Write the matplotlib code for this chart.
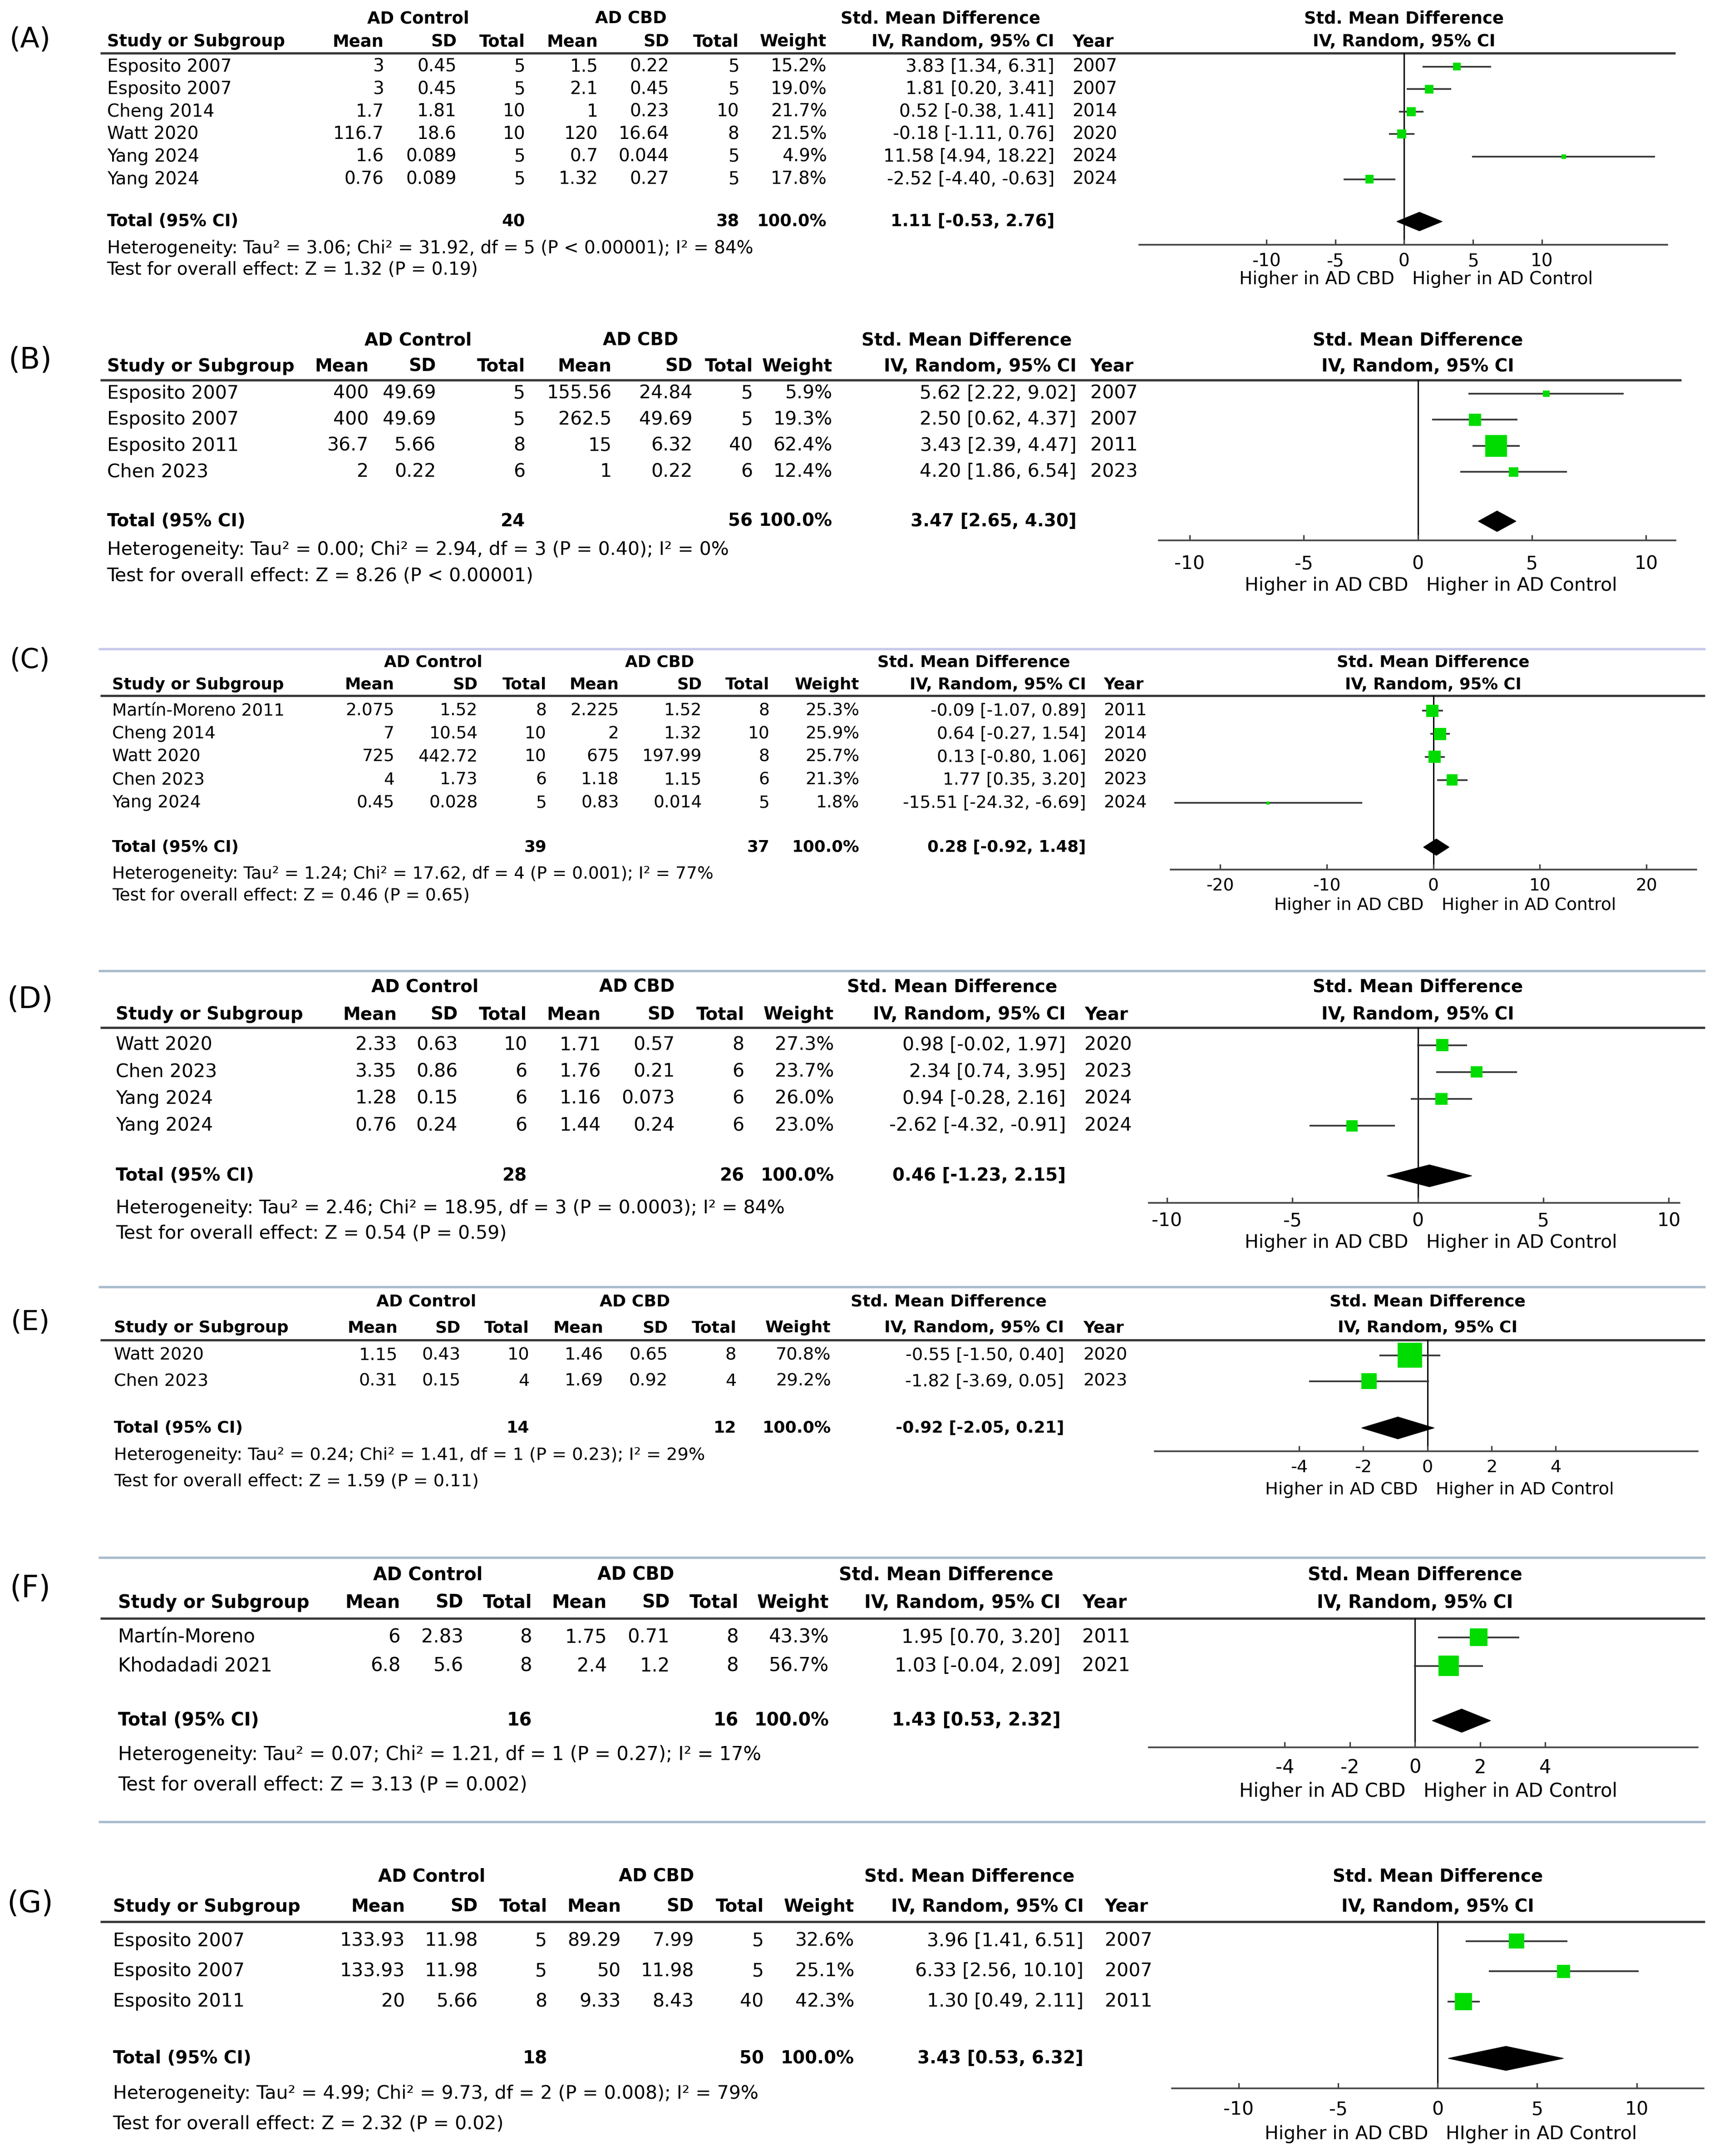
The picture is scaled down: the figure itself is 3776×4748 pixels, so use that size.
import numpy as np
import matplotlib
matplotlib.use('Agg')
import matplotlib.pyplot as plt

plt.rcParams['font.family'] = ['DejaVu Sans']
plt.rcParams['axes.unicode_minus'] = False

# ---------------- data ----------------
# (A)
A_STUDY = ['Esposito 2007', 'Esposito 2007', 'Cheng 2014', 'Watt 2020', 'Yang 2024', 'Yang 2024']
A_CTRL_MEAN = [3, 3, 1.7, 116.7, 1.6, 0.76]
A_CTRL_SD = [0.45, 0.45, 1.81, 18.6, 0.089, 0.089]
A_CTRL_N = [5, 5, 10, 10, 5, 5]
A_CBD_MEAN = [1.5, 2.1, 1, 120, 0.7, 1.32]
A_CBD_SD = [0.22, 0.45, 0.23, 16.64, 0.044, 0.27]
A_CBD_N = [5, 5, 10, 8, 5, 5]
A_WEIGHT = [15.2, 19.0, 21.7, 21.5, 4.9, 17.8]
A_SMD = [3.83, 1.81, 0.52, -0.18, 11.58, -2.52]
A_LO = [1.34, 0.20, -0.38, -1.11, 4.94, -4.40]
A_HI = [6.31, 3.41, 1.41, 0.76, 18.22, -0.63]
A_YEAR = [2007, 2007, 2014, 2020, 2024, 2024]
A_TOTAL_N = [40, 38]
A_POOLED = [1.11, -0.53, 2.76]
A_HET = 'Heterogeneity: Tau² = 3.06; Chi² = 31.92, df = 5 (P < 0.00001); I² = 84%'
A_TEST = 'Test for overall effect: Z = 1.32 (P = 0.19)'
A_TICKS = [-10, -5, 0, 5, 10]

# (B)
B_STUDY = ['Esposito 2007', 'Esposito 2007', 'Esposito 2011', 'Chen 2023']
B_CTRL_MEAN = [400, 400, 36.7, 2]
B_CTRL_SD = [49.69, 49.69, 5.66, 0.22]
B_CTRL_N = [5, 5, 8, 6]
B_CBD_MEAN = [155.56, 262.5, 15, 1]
B_CBD_SD = [24.84, 49.69, 6.32, 0.22]
B_CBD_N = [5, 5, 40, 6]
B_WEIGHT = [5.9, 19.3, 62.4, 12.4]
B_SMD = [5.62, 2.50, 3.43, 4.20]
B_LO = [2.22, 0.62, 2.39, 1.86]
B_HI = [9.02, 4.37, 4.47, 6.54]
B_YEAR = [2007, 2007, 2011, 2023]
B_TOTAL_N = [24, 56]
B_POOLED = [3.47, 2.65, 4.30]
B_HET = 'Heterogeneity: Tau² = 0.00; Chi² = 2.94, df = 3 (P = 0.40); I² = 0%'
B_TEST = 'Test for overall effect: Z = 8.26 (P < 0.00001)'
B_TICKS = [-10, -5, 0, 5, 10]

# (C)
C_STUDY = ['Martín-Moreno 2011', 'Cheng 2014', 'Watt 2020', 'Chen 2023', 'Yang 2024']
C_CTRL_MEAN = [2.075, 7, 725, 4, 0.45]
C_CTRL_SD = [1.52, 10.54, 442.72, 1.73, 0.028]
C_CTRL_N = [8, 10, 10, 6, 5]
C_CBD_MEAN = [2.225, 2, 675, 1.18, 0.83]
C_CBD_SD = [1.52, 1.32, 197.99, 1.15, 0.014]
C_CBD_N = [8, 10, 8, 6, 5]
C_WEIGHT = [25.3, 25.9, 25.7, 21.3, 1.8]
C_SMD = [-0.09, 0.64, 0.13, 1.77, -15.51]
C_LO = [-1.07, -0.27, -0.80, 0.35, -24.32]
C_HI = [0.89, 1.54, 1.06, 3.20, -6.69]
C_YEAR = [2011, 2014, 2020, 2023, 2024]
C_TOTAL_N = [39, 37]
C_POOLED = [0.28, -0.92, 1.48]
C_HET = 'Heterogeneity: Tau² = 1.24; Chi² = 17.62, df = 4 (P = 0.001); I² = 77%'
C_TEST = 'Test for overall effect: Z = 0.46 (P = 0.65)'
C_TICKS = [-20, -10, 0, 10, 20]

# (D)
D_STUDY = ['Watt 2020', 'Chen 2023', 'Yang 2024', 'Yang 2024']
D_CTRL_MEAN = [2.33, 3.35, 1.28, 0.76]
D_CTRL_SD = [0.63, 0.86, 0.15, 0.24]
D_CTRL_N = [10, 6, 6, 6]
D_CBD_MEAN = [1.71, 1.76, 1.16, 1.44]
D_CBD_SD = [0.57, 0.21, 0.073, 0.24]
D_CBD_N = [8, 6, 6, 6]
D_WEIGHT = [27.3, 23.7, 26.0, 23.0]
D_SMD = [0.98, 2.34, 0.94, -2.62]
D_LO = [-0.02, 0.74, -0.28, -4.32]
D_HI = [1.97, 3.95, 2.16, -0.91]
D_YEAR = [2020, 2023, 2024, 2024]
D_TOTAL_N = [28, 26]
D_POOLED = [0.46, -1.23, 2.15]
D_HET = 'Heterogeneity: Tau² = 2.46; Chi² = 18.95, df = 3 (P = 0.0003); I² = 84%'
D_TEST = 'Test for overall effect: Z = 0.54 (P = 0.59)'
D_TICKS = [-10, -5, 0, 5, 10]

# (E)
E_STUDY = ['Watt 2020', 'Chen 2023']
E_CTRL_MEAN = [1.15, 0.31]
E_CTRL_SD = [0.43, 0.15]
E_CTRL_N = [10, 4]
E_CBD_MEAN = [1.46, 1.69]
E_CBD_SD = [0.65, 0.92]
E_CBD_N = [8, 4]
E_WEIGHT = [70.8, 29.2]
E_SMD = [-0.55, -1.82]
E_LO = [-1.50, -3.69]
E_HI = [0.40, 0.05]
E_YEAR = [2020, 2023]
E_TOTAL_N = [14, 12]
E_POOLED = [-0.92, -2.05, 0.21]
E_HET = 'Heterogeneity: Tau² = 0.24; Chi² = 1.41, df = 1 (P = 0.23); I² = 29%'
E_TEST = 'Test for overall effect: Z = 1.59 (P = 0.11)'
E_TICKS = [-4, -2, 0, 2, 4]

# (F)
F_STUDY = ['Martín-Moreno', 'Khodadadi 2021']
F_CTRL_MEAN = [6, 6.8]
F_CTRL_SD = [2.83, 5.6]
F_CTRL_N = [8, 8]
F_CBD_MEAN = [1.75, 2.4]
F_CBD_SD = [0.71, 1.2]
F_CBD_N = [8, 8]
F_WEIGHT = [43.3, 56.7]
F_SMD = [1.95, 1.03]
F_LO = [0.70, -0.04]
F_HI = [3.20, 2.09]
F_YEAR = [2011, 2021]
F_TOTAL_N = [16, 16]
F_POOLED = [1.43, 0.53, 2.32]
F_HET = 'Heterogeneity: Tau² = 0.07; Chi² = 1.21, df = 1 (P = 0.27); I² = 17%'
F_TEST = 'Test for overall effect: Z = 3.13 (P = 0.002)'
F_TICKS = [-4, -2, 0, 2, 4]

# (G)
G_STUDY = ['Esposito 2007', 'Esposito 2007', 'Esposito 2011']
G_CTRL_MEAN = [133.93, 133.93, 20]
G_CTRL_SD = [11.98, 11.98, 5.66]
G_CTRL_N = [5, 5, 8]
G_CBD_MEAN = [89.29, 50, 9.33]
G_CBD_SD = [7.99, 11.98, 8.43]
G_CBD_N = [5, 5, 40]
G_WEIGHT = [32.6, 25.1, 42.3]
G_SMD = [3.96, 6.33, 1.30]
G_LO = [1.41, 2.56, 0.49]
G_HI = [6.51, 10.10, 2.11]
G_YEAR = [2007, 2007, 2011]
G_TOTAL_N = [18, 50]
G_POOLED = [3.43, 0.53, 6.32]
G_HET = 'Heterogeneity: Tau² = 4.99; Chi² = 9.73, df = 2 (P = 0.008); I² = 79%'
G_TEST = 'Test for overall effect: Z = 2.32 (P = 0.02)'
G_TICKS = [-10, -5, 0, 5, 10]

LEFT_LABEL = 'Higher in AD CBD'
RIGHT_LABELS = {'A': 'Higher in AD Control', 'B': 'Higher in AD Control', 'C': 'Higher in AD Control',
                'D': 'Higher in AD Control', 'E': 'Higher in AD Control', 'F': 'Higher in AD Control',
                'G': 'HIgher in AD Control'}

# ---------------- layout (positions on a 1250-wide grid) ----------------
LAYOUT = {
    'A': dict(lab=29, sep=None, grp=13.5, col=30.4, hl=38.6, hx2=1222, y0=48.6, dy=16.4, tot=161.5,
              het=181, test=196.6, sx=78, cols=[280, 333, 383, 436, 488, 539, 603, 769], yx=782,
              gx=[305, 460, 686], zero=1024, k=10.05, axl=831, axr=1216, axy=178.4, tly=189.2,
              hiy=203.5, dh=6.8, fs=28, sq=1.42),
    'B': dict(lab=263, sep=None, grp=248, col=267, hl=277, hx2=1226, y0=287, dy=19, tot=380,
              het=401, test=420, sx=78, cols=[269, 318, 383, 446, 505, 549, 607, 785], yx=795,
              gx=[305, 467, 705], zero=1034, k=16.65, axl=845, axr=1222, axy=394, tly=410,
              hiy=427, dh=7.5, fs=29.5, sq=2.0),
    'C': dict(lab=481.5, sep=472.9, sepc='#c9c9ec', grp=482.7, col=499.2, hl=507, hx2=1243.5, y0=518.2,
              dy=16.8, tot=617.6, het=637.3, test=653, sx=81.8,
              cols=[287.7, 348.5, 398.6, 451.4, 512, 561.2, 626.7, 792], yx=805,
              gx=[315.9, 481, 710], zero=1045.3, k=7.77, axl=853.6, axr=1237.1, axy=634.1, tly=644.9,
              hiy=660.1, dh=6.0, fs=27, sq=1.75),
    'D': dict(lab=728.8, sep=707.9, sepc='#a9bccd', grp=719.4, col=739.6, hl=749.1, hx2=1243.5, y0=761.9,
              dy=19.6, tot=857.2, het=880.8, test=899.1, sx=84.5,
              cols=[289.3, 333.7, 384.4, 438.2, 492, 542.8, 608.2, 777.2], yx=791,
              gx=[310, 464.6, 694.3], zero=1034, k=18.3, axl=838, axr=1225, axy=877, tly=889,
              hiy=906, dh=8.0, fs=29.5, sq=1.72),
    'E': dict(lab=964, sep=938, sepc='#a9bccd', grp=949, col=968, hl=977, hx2=1243.5, y0=988, dy=19,
              tot=1041, het=1061, test=1080, sx=83, cols=[290, 336, 386, 440, 487, 537, 606, 776], yx=790,
              gx=[311, 463, 692], zero=1041, k=23.4, axl=842, axr=1238, axy=1058, tly=1069,
              hiy=1086, dh=8.0, fs=27.5, sq=2.14),
    'F': dict(lab=1158.2, sep=1135.4, sepc='#a9bccd', grp=1148.1, col=1168.4, hl=1179.9, hx2=1243.5,
              y0=1193.6, dy=20.9, tot=1254.4, het=1279.2, test=1301.4, sx=86,
              cols=[292, 337.9, 388, 442.5, 488.4, 538.5, 604.5, 773.5], yx=789.3,
              gx=[312, 463.6, 690], zero=1032, k=23.75, axl=838, axr=1238, axy=1274, tly=1287,
              hiy=1306, dh=8.5, fs=30, sq=1.98),
    'G': dict(lab=1387.9, sep=1328, sepc='#a9bccd', grp=1368, col=1390, hl=1400.8, hx2=1243.5,
              y0=1415.1, dy=22.1, tot=1500.6, het=1526.4, test=1548.5, sx=82.3,
              cols=[295.3, 348.5, 399, 452.8, 506, 557, 623, 790.3], yx=805.7,
              gx=[315, 478.6, 707], zero=1048.5, k=14.51, axl=854.8, axr=1242.4, axy=1522.3, tly=1536.7,
              hiy=1555.9, dh=8.8, fs=29.5, sq=1.93),
}

PANELS = {}
for key in 'ABCDEFG':
    g = globals()
    PANELS[key] = dict(study=g[key + '_STUDY'], cm=g[key + '_CTRL_MEAN'], cs=g[key + '_CTRL_SD'],
                       cn=g[key + '_CTRL_N'], bm=g[key + '_CBD_MEAN'], bs=g[key + '_CBD_SD'],
                       bn=g[key + '_CBD_N'], w=g[key + '_WEIGHT'], smd=g[key + '_SMD'],
                       lo=g[key + '_LO'], hi=g[key + '_HI'], year=g[key + '_YEAR'],
                       totn=g[key + '_TOTAL_N'], pooled=g[key + '_POOLED'], het=g[key + '_HET'],
                       test=g[key + '_TEST'], ticks=g[key + '_TICKS'])

W_PX, H_PX = 3776, 4748
S = W_PX / 1250.0
W, H = W_PX / S, H_PX / S
PT = 72.0 / 100.0  # points per output pixel

GREEN = '#00dc00'
LINE = '#333333'

fig = plt.figure(figsize=(W_PX / 100, H_PX / 100), dpi=100)
canvas = fig.add_axes([0, 0, 1, 1])
canvas.set_xlim(0, W)
canvas.set_ylim(H, 0)
canvas.axis('off')


def ci_text(e, l, h):
    return f'{e:.2f} [{l:.2f}, {h:.2f}]'


def draw_panel(key, d, L):
    fs = L['fs']
    hfs = fs * 0.95
    txt = dict(va='center', color='black')

    canvas.text(22, L['lab'], f'({key})', fontsize=fs * 1.6, ha='center', **txt)
    if L['sep'] is not None:
        canvas.plot([72, 1243.6], [L['sep'], L['sep']], color=L['sepc'], lw=3.8, solid_capstyle='butt')

    # headers
    for s, cx in zip(['AD Control', 'AD CBD', 'Std. Mean Difference'], L['gx']):
        canvas.text(cx, L['grp'], s, fontsize=hfs, fontweight='bold', ha='center', **txt)
    canvas.text(L['zero'], L['grp'], 'Std. Mean Difference', fontsize=hfs, fontweight='bold', ha='center', **txt)
    canvas.text(L['sx'], L['col'], 'Study or Subgroup', fontsize=hfs, fontweight='bold', ha='left', **txt)
    heads = ['Mean', 'SD', 'Total', 'Mean', 'SD', 'Total', 'Weight', 'IV, Random, 95% CI']
    for s, rx in zip(heads, L['cols']):
        canvas.text(rx, L['col'], s, fontsize=hfs, fontweight='bold', ha='right', **txt)
    canvas.text(L['yx'], L['col'], 'Year', fontsize=hfs, fontweight='bold', ha='left', **txt)
    canvas.text(L['zero'], L['col'], 'IV, Random, 95% CI', fontsize=hfs, fontweight='bold', ha='center', **txt)
    canvas.plot([73, L['hx2']], [L['hl'], L['hl']], color='#3a3a3a', lw=3.6, solid_capstyle='butt')

    # study rows
    n = len(d['study'])
    rows = L['y0'] + L['dy'] * np.arange(n)
    for i, y in enumerate(rows):
        canvas.text(L['sx'], y, d['study'][i], fontsize=fs, ha='left', **txt)
        vals = [f"{d['cm'][i]:g}", f"{d['cs'][i]:g}", str(d['cn'][i]),
                f"{d['bm'][i]:g}", f"{d['bs'][i]:g}", str(d['bn'][i]),
                f"{d['w'][i]:.1f}%", ci_text(d['smd'][i], d['lo'][i], d['hi'][i])]
        for s, rx in zip(vals, L['cols']):
            canvas.text(rx, y, s, fontsize=fs, ha='right', **txt)
        canvas.text(L['yx'], y, str(d['year'][i]), fontsize=fs, ha='left', **txt)

    # total + footers
    canvas.text(L['sx'], L['tot'], 'Total (95% CI)', fontsize=hfs, fontweight='bold', ha='left', **txt)
    tvals = [(str(d['totn'][0]), 2), (str(d['totn'][1]), 5), ('100.0%', 6), (ci_text(*d['pooled']), 7)]
    for s, ci in tvals:
        canvas.text(L['cols'][ci], L['tot'], s, fontsize=hfs, fontweight='bold', ha='right', **txt)
    canvas.text(L['sx'], L['het'], d['het'], fontsize=fs, ha='left', **txt)
    canvas.text(L['sx'], L['test'], d['test'], fontsize=fs, ha='left', **txt)

    # forest plot
    ax = fig.add_axes([L['axl'] / W, 1 - L['axy'] / H, (L['axr'] - L['axl']) / W, (L['axy'] - L['hl']) / H])
    ax.set_facecolor('none')
    ax.set_xlim((L['axl'] - L['zero']) / L['k'], (L['axr'] - L['zero']) / L['k'])
    ax.set_ylim(L['axy'], L['hl'])
    for side in ['left', 'right', 'top']:
        ax.spines[side].set_visible(False)
    ax.spines['bottom'].set_color('#444444')
    ax.spines['bottom'].set_linewidth(2.6)
    ax.set_yticks([])
    ax.set_xticks(d['ticks'])
    ax.set_xticklabels([str(t) for t in d['ticks']])
    lab_half = 0.5 * 0.78 * fs / PT
    pad = max(2.0, ((L['tly'] - L['axy']) * S - lab_half) * PT)
    ax.tick_params(axis='x', direction='in', length=9, width=2.4, color='#444444',
                   pad=pad, labelsize=fs)
    ax.axvline(0, color='black', lw=2.2, zorder=1)

    for i, y in enumerate(rows):
        ax.plot([d['lo'][i], d['hi'][i]], [y, y], color=LINE, lw=2.6, solid_capstyle='butt',
                zorder=2, clip_on=False)
        side_pt = L['sq'] * np.sqrt(d['w'][i]) * S * PT
        ax.scatter([d['smd'][i]], [y], marker='s', s=side_pt ** 2, color=GREEN, edgecolors='none',
                   zorder=3, clip_on=False)

    e, lo, hi = d['pooled']
    yt = L['tot']
    ax.fill([lo, e, hi, e], [yt, yt - L['dh'], yt, yt + L['dh']], color='black', zorder=4, clip_on=False)

    canvas.text(L['zero'] - 7, L['hiy'], LEFT_LABEL, fontsize=fs, ha='right', **txt)
    canvas.text(L['zero'] + 6, L['hiy'], RIGHT_LABELS[key], fontsize=fs, ha='left', **txt)


for key in 'ABCDEFG':
    draw_panel(key, PANELS[key], LAYOUT[key])

fig.savefig('out.png', dpi=100)
